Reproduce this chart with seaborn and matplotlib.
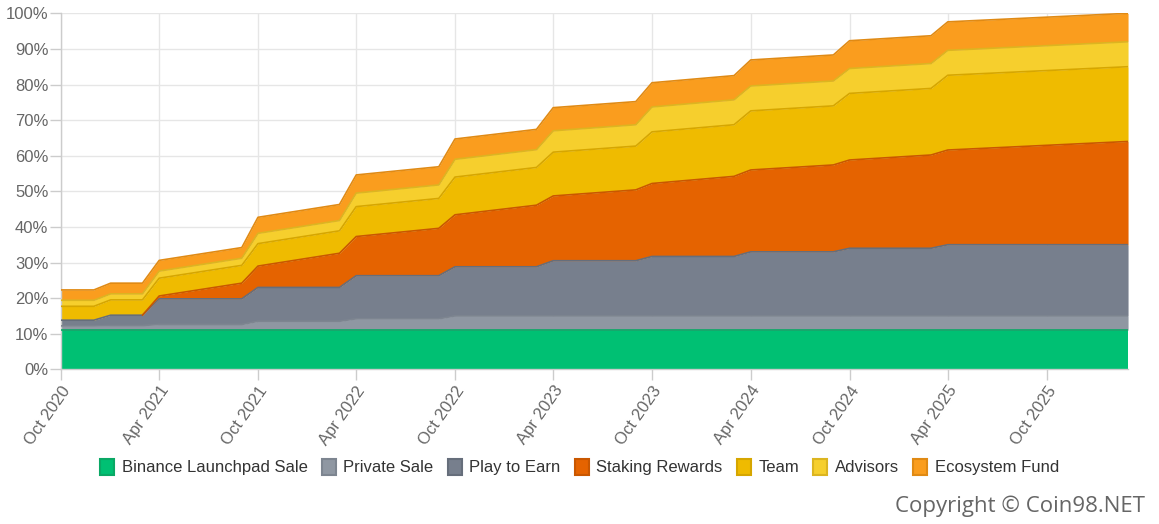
import matplotlib
matplotlib.use("Agg")
import matplotlib.pyplot as plt
import matplotlib.dates as mdates
from matplotlib.patches import Patch
from matplotlib.ticker import MultipleLocator, PercentFormatter
import seaborn as sns
import pandas as pd

# months where the unlock schedule changes (values in % of total supply)
months = ["2020-10", "2020-12", "2021-01", "2021-03", "2021-04", "2021-09",
          "2021-10", "2022-03", "2022-04", "2022-09", "2022-10", "2023-03",
          "2023-04", "2023-09", "2023-10", "2024-03", "2024-04", "2024-09",
          "2024-10", "2025-03", "2025-04", "2026-03"]

binance = [11.0, 11.0, 11.0, 11.0, 11.0, 11.0, 11.0, 11.0, 11.0, 11.0, 11.0,
           11.0, 11.0, 11.0, 11.0, 11.0, 11.0, 11.0, 11.0, 11.0, 11.0, 11.0]
private = [1.2, 1.2, 1.3, 1.3, 1.6, 1.6, 2.5, 2.5, 3.2, 3.2, 4.0,
           4.0, 4.0, 4.0, 4.0, 4.0, 4.0, 4.0, 4.0, 4.0, 4.0, 4.0]
play_to_earn = [1.6, 1.6, 2.9, 2.9, 7.2, 7.2, 9.5, 9.5, 12.1, 12.1, 13.8,
                13.8, 15.5, 15.5, 16.7, 16.7, 18.0, 18.0, 19.0, 19.0, 20.0, 20.0]
staking = [0.0, 0.0, 0.0, 0.0, 0.8, 4.4, 6.0, 9.6, 11.0, 13.3, 14.6,
           17.3, 18.2, 19.9, 20.5, 22.5, 23.0, 24.4, 24.8, 26.2, 26.6, 29.0]
team = [3.9, 3.9, 4.3, 4.3, 5.0, 5.0, 6.3, 6.3, 8.4, 8.4, 10.6,
        10.6, 12.3, 12.3, 14.5, 14.5, 16.6, 16.6, 18.7, 18.7, 21.0, 21.0]
advisors = [1.7, 1.7, 1.7, 1.7, 2.0, 2.0, 2.9, 2.9, 3.8, 3.8, 5.0,
            5.0, 6.0, 6.0, 7.0, 7.0, 7.0, 7.0, 7.0, 7.0, 7.0, 7.0]
ecosystem = [2.9, 2.9, 3.0, 3.0, 3.0, 3.0, 4.5, 4.5, 5.1, 5.1, 5.7,
             5.7, 6.5, 6.5, 6.8, 6.8, 7.3, 7.3, 7.8, 7.8, 8.0, 8.0]

names = ["Binance Launchpad Sale", "Private Sale", "Play to Earn",
         "Staking Rewards", "Team", "Advisors", "Ecosystem Fund"]
colors = ["#00c073", "#8f97a2", "#777f8d", "#e56300",
          "#efbb00", "#f6cf2d", "#fa9d1e"]
edges = ["#0aa865", "#7d8590", "#666e7b", "#c95700",
         "#d6a600", "#dcb520", "#e08a14"]

df = pd.DataFrame({"date": pd.to_datetime(months)})
for n, v in zip(names, [binance, private, play_to_earn, staking, team, advisors, ecosystem]):
    df[n] = v

# stacked tops for the boundary lines
cum = df[names].cumsum(axis=1)
cum["date"] = df["date"]
long = cum.melt(id_vars="date", var_name="series", value_name="top")
# no staking line before staking starts
long = long[~((long["series"] == "Staking Rewards") & (long["date"] < pd.Timestamp("2021-03-01")))]

sns.set_theme(style="whitegrid")
plt.rcParams["font.family"] = ["Liberation Sans", "DejaVu Sans"]

fig = plt.figure(figsize=(11.59, 5.24), dpi=100)
ax = fig.add_axes([0.0526, 0.2952, 0.9207, 0.6794])

ax.stackplot(df["date"], *[df[n] for n in names], colors=colors, linewidth=0, zorder=2)
sns.lineplot(data=long, x="date", y="top", hue="series", hue_order=names,
             palette=edges, linewidth=1.2, legend=False, ax=ax, zorder=3)

ax.set_xlim(pd.Timestamp("2020-10-01"), pd.Timestamp("2026-03-01"))
ax.set_ylim(0, 100)
ax.yaxis.set_major_locator(MultipleLocator(10))
ax.yaxis.set_major_formatter(PercentFormatter(decimals=0))
ax.xaxis.set_major_locator(mdates.MonthLocator(bymonth=[4, 10]))
ax.xaxis.set_major_formatter(mdates.DateFormatter("%b %Y"))
ax.set_xlabel("")
ax.set_ylabel("")

ax.set_facecolor("white")
ax.grid(True, color="#e6e6e6", linewidth=1)
for s in ["top", "right"]:
    ax.spines[s].set_visible(False)
for s in ["left", "bottom"]:
    ax.spines[s].set_visible(True)
    ax.spines[s].set_color("#cccccc")
    ax.spines[s].set_linewidth(1)

ax.tick_params(axis="y", labelsize=12, colors="#666666", length=8, width=1,
               color="#cccccc", pad=1, left=True)
ax.tick_params(axis="x", labelsize=12, colors="#666666", length=8, width=1,
               color="#cccccc", bottom=True, pad=2)
for lab in ax.get_xticklabels():
    lab.set_rotation(55)
    lab.set_ha("right")
    lab.set_rotation_mode("anchor")

handles = [Patch(facecolor=c, edgecolor=e, linewidth=1.5) for c, e in zip(colors, edges)]
fig.legend(handles, names, loc="center", bbox_to_anchor=(0.5, 0.109), ncol=7,
           frameon=False, fontsize=12, labelcolor="#333333", handlelength=0.85,
           handleheight=1.1, handletextpad=0.45, columnspacing=0.85)

fig.text(0.988, 0.033, "Copyright © Coin98.NET", ha="right", va="center",
         fontsize=16, color="#666666", family=["Open Sans", "DejaVu Sans"])

fig.savefig("out.png", dpi=100, facecolor="white")
